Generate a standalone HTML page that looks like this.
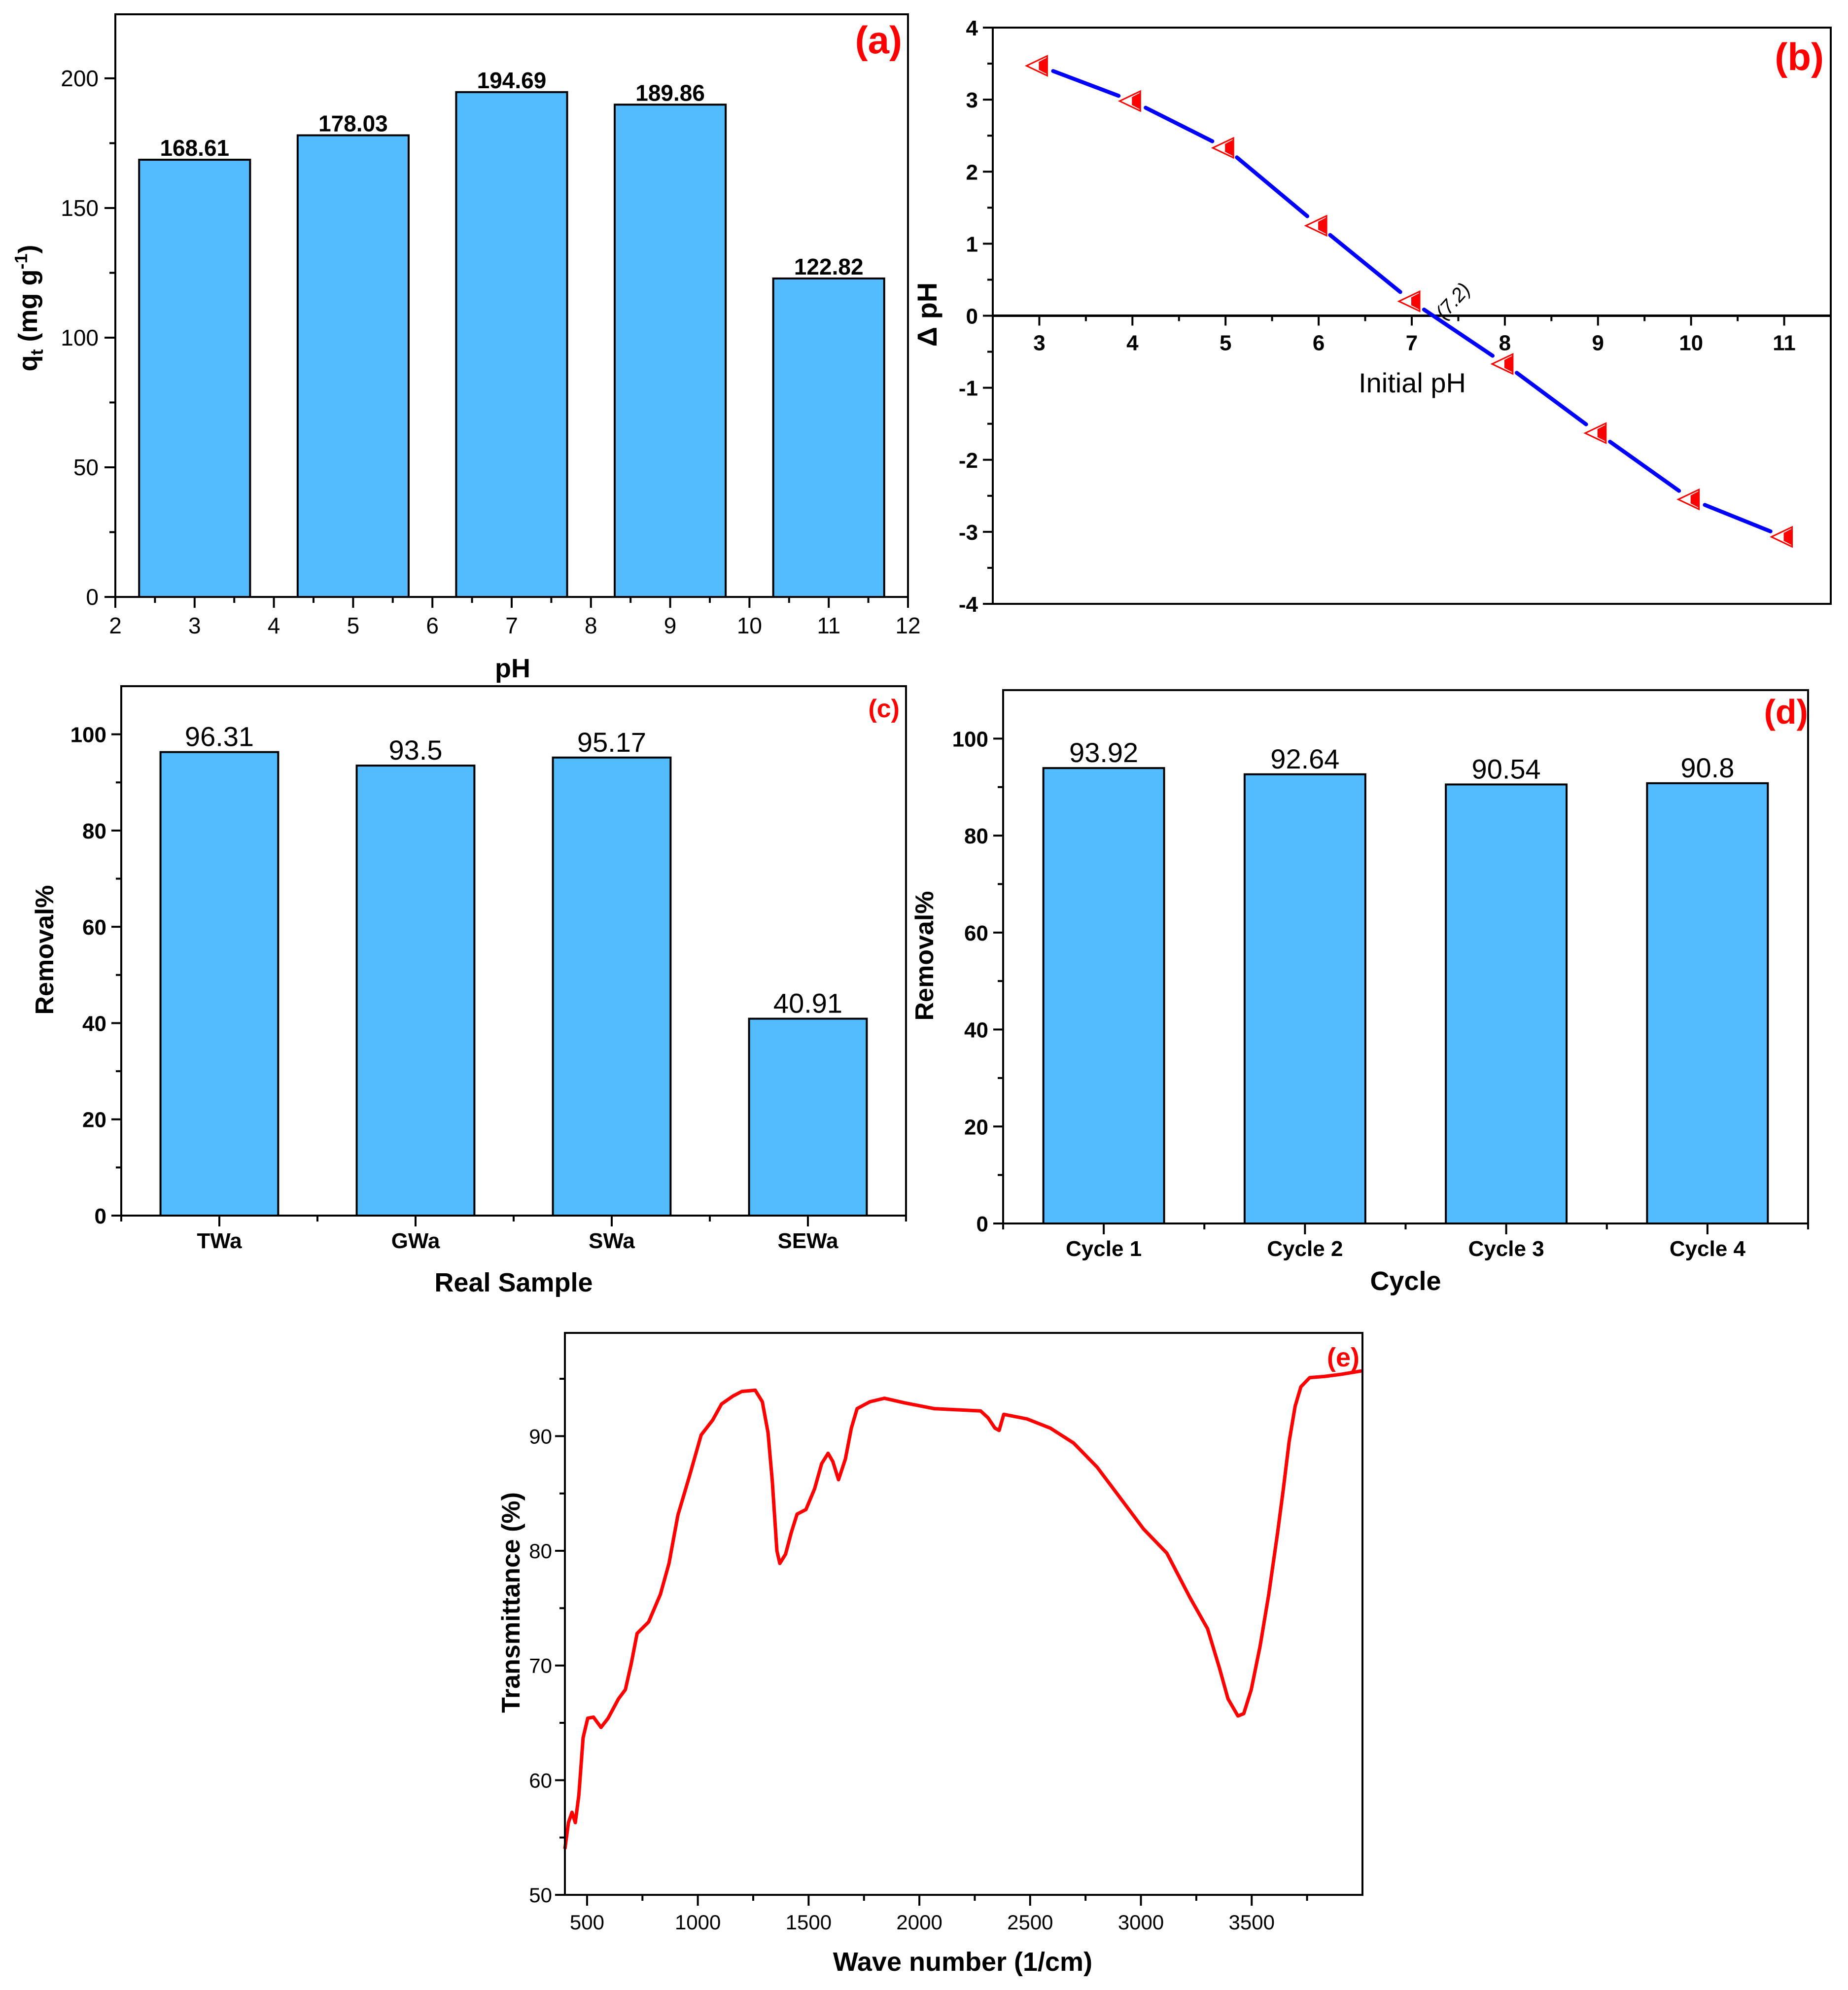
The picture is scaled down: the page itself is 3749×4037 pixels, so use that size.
<!DOCTYPE html>
<html><head><meta charset="utf-8"><style>
html,body{margin:0;padding:0;background:#fff}
svg{display:block;font-family:"Liberation Sans",Arial,sans-serif}
</style></head><body>
<svg id="fig" xmlns="http://www.w3.org/2000/svg" width="3749" height="4037" viewBox="0 0 3749 4037"></svg>
<script>
// ---- Panel (a) data ----
const aCats = [3, 5, 7, 9, 11];
const aVals = [168.61, 178.03, 194.69, 189.86, 122.82];
const aLabels = ["168.61", "178.03", "194.69", "189.86", "122.82"];
const aYTicks = [0, 50, 100, 150, 200];
const aXTicks = [2, 3, 4, 5, 6, 7, 8, 9, 10, 11, 12];
// ---- Panel (b) data ----
const bX = [3, 4, 5, 6, 7, 8, 9, 10, 11];
const bY = [3.47, 2.98, 2.33, 1.25, 0.2, -0.67, -1.63, -2.55, -3.07];
const bYTicks = [-4, -3, -2, -1, 0, 1, 2, 3, 4];
const bXTicks = [3, 4, 5, 6, 7, 8, 9, 10, 11];
// ---- Panel (c) data ----
const cCats = ["TWa", "GWa", "SWa", "SEWa"];
const cVals = [96.31, 93.5, 95.17, 40.91];
const cLabels = ["96.31", "93.5", "95.17", "40.91"];
const cYTicks = [0, 20, 40, 60, 80, 100];
// ---- Panel (d) data ----
const dCats = ["Cycle 1", "Cycle 2", "Cycle 3", "Cycle 4"];
const dVals = [93.92, 92.64, 90.54, 90.8];
const dLabels = ["93.92", "92.64", "90.54", "90.8"];
const dYTicks = [0, 20, 40, 60, 80, 100];
// ---- Panel (e) data ----
const eWave = [400,416,432,447,463,482,503,529,563,595,642,673,700,726,778,831,870,910,962,1015,1067,1107,1159,1199,1259,1291,1317,1336,1357,1370,1396,1422,1448,1488,1527,1559,1588,1609,1635,1666,1693,1719,1777,1842,1934,2066,2276,2310,2341,2360,2381,2486,2591,2696,2802,2907,3012,3117,3222,3301,3354,3393,3438,3464,3498,3538,3577,3617,3643,3669,3696,3722,3762,3828,3906,4000];
const eTrans = [54.0,56.3,57.2,56.3,58.7,63.7,65.4,65.5,64.6,65.4,67.1,67.9,70.2,72.8,73.8,76.2,78.9,83.1,86.5,90.1,91.4,92.8,93.5,93.9,94.0,93.0,90.3,86.1,80.0,78.9,79.7,81.6,83.2,83.6,85.4,87.6,88.5,87.8,86.2,88.0,90.7,92.4,93.0,93.3,92.9,92.4,92.2,91.6,90.7,90.5,91.9,91.5,90.7,89.4,87.3,84.6,81.9,79.8,75.9,73.2,69.8,67.1,65.6,65.8,67.9,71.7,76.2,81.6,85.4,89.5,92.6,94.3,95.1,95.2,95.4,95.7];
const eXTicks = [500, 1000, 1500, 2000, 2500, 3000, 3500];
const eYTicks = [50, 60, 70, 80, 90];

const NS = "http://www.w3.org/2000/svg";
const fig = document.getElementById("fig");
function el(tag, attrs, parent, text) {
  const e = document.createElementNS(NS, tag);
  for (const k in attrs) e.setAttribute(k, attrs[k]);
  if (text !== undefined) e.textContent = text;
  (parent || fig).appendChild(e);
  return e;
}
function lin(d0, d1, r0, r1) { return v => r0 + (v - d0) * (r1 - r0) / (d1 - d0); }
const BAR = "#52BCFE";

function frame(g, L, T, R, B) {
  const f = el("rect", {x: L, y: T, width: R - L, height: B - T, fill: "none", stroke: "#000", "stroke-width": 4}, g);
  
  
}
function panelLabel(g, x, y, t, size) {
  const e = el("text", {x: x, y: y, "font-size": size, "font-weight": "bold", fill: "#f00", "text-anchor": "end"}, g, t);
  
  
}
function yLabel(g, x, y, t, size, bold) {
  const e = el("text", {x: 0, y: 0, "font-size": size, "font-weight": bold ? "bold" : "normal", "text-anchor": "middle", transform: "translate(" + x + "," + y + ") rotate(-90)"}, g, t);
  
  
  return e;
}
function xLabel(g, x, y, t, size, bold) {
  const e = el("text", {x: x, y: y, "font-size": size, "font-weight": bold ? "bold" : "normal", "text-anchor": "middle"}, g, t);
  
  
  return e;
}

// ============ Panel (a) ============
(function () {
  const g = el("g", {});
  
  
  const L = 234, R = 1842, T = 29, B = 1211;
  const xs = lin(2, 12, L, R), ys = lin(0, 224.7, B, T);
  for (let i = 0; i < aCats.length; i++) {
    const r = el("rect", {x: xs(aCats[i] - 0.7), y: ys(aVals[i]), width: xs(aCats[i] + 0.7) - xs(aCats[i] - 0.7), height: ys(0) - ys(aVals[i]), fill: BAR, stroke: "#000", "stroke-width": 4}, g);
    
    
    const t = el("text", {x: xs(aCats[i]), y: ys(aVals[i]) - 8, "font-size": 46, "font-weight": "bold", "text-anchor": "middle"}, g, aLabels[i]);
    
    
  }
  frame(g, L, T, R, B);
  for (const v of aYTicks) {
    el("line", {x1: L - 22, x2: L, y1: ys(v), y2: ys(v), stroke: "#000", "stroke-width": 4}, g);
    const t = el("text", {x: L - 34, y: ys(v) + 16, "font-size": 46, "text-anchor": "end"}, g, String(v));
    
    
  }
  for (let v = 25; v < 224; v += 50) el("line", {x1: L - 12, x2: L, y1: ys(v), y2: ys(v), stroke: "#000", "stroke-width": 4}, g);
  for (const v of aXTicks) {
    el("line", {x1: xs(v), x2: xs(v), y1: B, y2: B + 22, stroke: "#000", "stroke-width": 4}, g);
    const t = el("text", {x: xs(v), y: B + 74, "font-size": 46, "text-anchor": "middle"}, g, String(v));
    
    
  }
  for (let v = 2.5; v < 12; v += 1) el("line", {x1: xs(v), x2: xs(v), y1: B, y2: B + 12, stroke: "#000", "stroke-width": 4}, g);
  xLabel(g, 1040, 1374, "pH", 54, true);
  const yl = el("text", {x: 0, y: 0, "font-size": 54, "font-weight": "bold", "text-anchor": "middle", transform: "translate(75,625) rotate(-90)"}, g);
  
  
  el("tspan", {}, yl, "q");
  el("tspan", {"font-size": 36, dy: 12}, yl, "t");
  el("tspan", {dy: -12}, yl, " (mg g");
  el("tspan", {"font-size": 36, dy: -20}, yl, "-1");
  el("tspan", {dy: 20}, yl, ")");
  panelLabel(g, 1830, 108, "(a)", 78);
})();

// ============ Panel (b) ============
(function () {
  const g = el("g", {});
  
  
  const L = 2014, R = 3714, T = 56, B = 1225;
  const xs = lin(2.5, 11.5, L, R), ys = lin(-4, 4, B, T);
  frame(g, L, T, R, B);
  const y0 = ys(0);
  el("line", {x1: L, x2: R, y1: y0, y2: y0, stroke: "#000", "stroke-width": 5}, g);
  for (const v of bYTicks) {
    el("line", {x1: L - 20, x2: L, y1: ys(v), y2: ys(v), stroke: "#000", "stroke-width": 4}, g);
    const t = el("text", {x: L - 30, y: ys(v) + 16, "font-size": 44, "font-weight": "bold", "text-anchor": "end"}, g, String(v));
    
    
  }
  for (let v = -3.5; v < 4; v += 1) el("line", {x1: L - 11, x2: L, y1: ys(v), y2: ys(v), stroke: "#000", "stroke-width": 4}, g);
  for (const v of bXTicks) {
    el("line", {x1: xs(v), x2: xs(v), y1: y0, y2: y0 + 20, stroke: "#000", "stroke-width": 4}, g);
    const t = el("text", {x: xs(v), y: y0 + 70, "font-size": 44, "font-weight": "bold", "text-anchor": "middle"}, g, String(v));
    
    
  }
  for (let v = 3.5; v < 11; v += 1) el("line", {x1: xs(v), x2: xs(v), y1: y0, y2: y0 + 11, stroke: "#000", "stroke-width": 4}, g);
  // line segments with gaps at markers
  for (let i = 0; i < bX.length - 1; i++) {
    const x1 = xs(bX[i]), y1 = ys(bY[i]), x2 = xs(bX[i + 1]), y2 = ys(bY[i + 1]);
    const dx = x2 - x1, dy = y2 - y1, len = Math.hypot(dx, dy), gap = 30;
    const s = el("line", {x1: x1 + dx * gap / len, y1: y1 + dy * gap / len, x2: x2 - dx * gap / len, y2: y2 - dy * gap / len, stroke: "#0000FF", "stroke-width": 8, "stroke-linecap": "round"}, g);
    
    
  }
  for (let i = 0; i < bX.length; i++) {
    const cx = xs(bX[i]) - 5, cy = ys(bY[i]);
    const m = el("g", {}, g);
    
    
    el("polygon", {points: (cx - 21) + "," + cy + " " + (cx + 21) + "," + (cy - 20) + " " + (cx + 21) + "," + (cy + 20), fill: "#fff", stroke: "#f00", "stroke-width": 3}, m);
    el("polygon", {points: (cx + 4) + "," + (cy - 8) + " " + (cx + 21) + "," + (cy - 17) + " " + (cx + 21) + "," + (cy + 17) + " " + (cx + 4) + "," + (cy + 8), fill: "#f00"}, m);
  }
  const ann = el("text", {x: 0, y: 0, "font-size": 40, "font-style": "italic", transform: "translate(2930,650) rotate(-48)"}, g, "(7.2)");
  
  
  xLabel(g, 2865, 796, "Initial pH", 56, false);
  yLabel(g, 1900, 638, "Δ pH", 56, true);
  panelLabel(g, 3700, 142, "(b)", 78);
})();

// ============ generic category bar chart ============
function catBars(name, cats, vals, labels, yticks, L, R, T, B, xt, yt, xtitleY, ytitleX, ytitleY, lab, labX, labY, labSize) {
  const g = el("g", {});
  
  
  const xs = lin(0.5, cats.length + 0.5, L, R), ys = lin(0, 110, B, T);
  for (let i = 0; i < cats.length; i++) {
    const c = i + 1;
    const r = el("rect", {x: xs(c - 0.3), y: ys(vals[i]), width: xs(c + 0.3) - xs(c - 0.3), height: ys(0) - ys(vals[i]), fill: BAR, stroke: "#000", "stroke-width": 4}, g);
    
    
    const t = el("text", {x: xs(c), y: ys(vals[i]) - 12, "font-size": 56, "text-anchor": "middle"}, g, labels[i]);
    
    
    const tl = el("text", {x: xs(c), y: B + 66, "font-size": 44, "font-weight": "bold", "text-anchor": "middle"}, g, cats[i]);
    
    
    el("line", {x1: xs(c), x2: xs(c), y1: B, y2: B + 22, stroke: "#000", "stroke-width": 4}, g);
  }
  for (let c = 0.5; c <= cats.length + 0.5; c += 1) el("line", {x1: xs(c), x2: xs(c), y1: B, y2: B + 12, stroke: "#000", "stroke-width": 4}, g);
  frame(g, L, T, R, B);
  for (const v of yticks) {
    el("line", {x1: L - 20, x2: L, y1: ys(v), y2: ys(v), stroke: "#000", "stroke-width": 4}, g);
    const t = el("text", {x: L - 30, y: ys(v) + 16, "font-size": 44, "font-weight": "bold", "text-anchor": "end"}, g, String(v));
    
    
  }
  for (let v = 10; v < 110; v += 20) el("line", {x1: L - 11, x2: L, y1: ys(v), y2: ys(v), stroke: "#000", "stroke-width": 4}, g);
  xLabel(g, (L + R) / 2, xtitleY, xt, 54, true);
  yLabel(g, ytitleX, ytitleY, yt, 52, true);
  panelLabel(g, labX, labY, lab, labSize);
}
catBars('panel-c-real-sample-chart', cCats, cVals, cLabels, cYTicks, 246, 1838, 1392, 2466, "Real Sample", "Removal%", 2620, 108, 1927, "(c)", 1825, 1455, 52);
catBars('panel-d-cycle-chart', dCats, dVals, dLabels, dYTicks, 2035, 3668, 1400, 2482, "Cycle", "Removal%", 2617, 1893, 1939, "(d)", 3668, 1468, 70);

// ============ Panel (e) ============
(function () {
  const g = el("g", {});
  
  
  const L = 1146, R = 2764, T = 2704, B = 3844;
  const xs = lin(400, 4000, L, R), ys = lin(50, 99, B, T);
  let d = "";
  for (let i = 0; i < eWave.length; i++) d += (i ? "L" : "M") + xs(eWave[i]).toFixed(1) + "," + ys(eTrans[i]).toFixed(1);
  const p = el("path", {d: d, fill: "none", stroke: "#f00", "stroke-width": 7, "stroke-linejoin": "round"}, g);
  
  
  frame(g, L, T, R, B);
  for (const v of eYTicks) {
    el("line", {x1: L - 20, x2: L, y1: ys(v), y2: ys(v), stroke: "#000", "stroke-width": 4}, g);
    const t = el("text", {x: L - 26, y: ys(v) + 15, "font-size": 42, "text-anchor": "end"}, g, String(v));
    
    
  }
  for (let v = 55; v < 99; v += 10) el("line", {x1: L - 11, x2: L, y1: ys(v), y2: ys(v), stroke: "#000", "stroke-width": 4}, g);
  for (const v of eXTicks) {
    el("line", {x1: xs(v), x2: xs(v), y1: B, y2: B + 22, stroke: "#000", "stroke-width": 4}, g);
    const t = el("text", {x: xs(v), y: B + 70, "font-size": 42, "text-anchor": "middle"}, g, String(v));
    
    
  }
  for (let v = 750; v < 4000; v += 500) el("line", {x1: xs(v), x2: xs(v), y1: B, y2: B + 12, stroke: "#000", "stroke-width": 4}, g);
  xLabel(g, 1953, 3998, "Wave number (1/cm)", 54, true);
  yLabel(g, 1054, 3251, "Transmittance (%)", 52, true);
  panelLabel(g, 2758, 2772, "(e)", 54);
})();
</script>
</body></html>
